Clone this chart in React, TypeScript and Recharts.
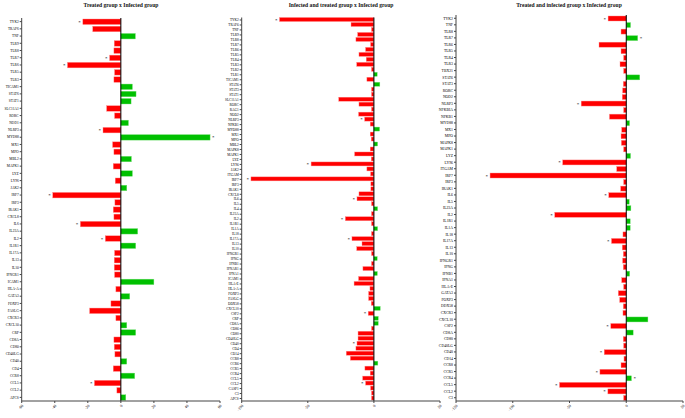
import { Bar, BarChart, ReferenceLine, XAxis, YAxis } from 'recharts';

// Treated group x Infected group
const p1Genes = [
  'TYK2', 'TRAF6', 'TNF', 'TLR9', 'TLR8', 'TLR7', 'TLR6', 'TLR5', 'TLR3', 'TICAM1',
  'STAT6', 'STAT1', 'SLC11A1', 'RORC', 'NOD1', 'NLRP3', 'MYD88', 'MX1', 'MPO', 'MBL2',
  'MAPK1', 'LYZ', 'LY96', 'JAK2', 'IRF7', 'IRF3', 'IRAK1', 'CXCL8', 'IL6', 'IL23A',
  'IL2', 'IL1R1', 'IL17A', 'IL13', 'IL10', 'IFNGR1', 'ICAM1', 'HLA-A', 'GATA3', 'FOXP3',
  'FASLG', 'CXCR3', 'CXCL10', 'CRP', 'CD8A', 'CD80', 'CD40LG', 'CD40', 'CD4', 'CCR8',
  'CCL5', 'CCL2', 'APCS',
];
const p1Values = [
  -23, -17, 8.8, -4, -4.2, -6.8, -32.3, -3.8, -4.2, 7,
  9.2, 6.2, -8.6, -3.8, 4.6, -10.8, 54, -5, -4.2, 6.4,
  -4.6, 7, -3.4, 3.6, -41.2, -3.6, -4.6, -4.2, -24.5, 10.2,
  -9.4, 9, -3.8, -4, -4, -3.8, 20, -3, 5.4, -6,
  -18.9, -3, 3.6, 9, -4.2, -4, -3.6, 3.6, -4.6, 8.4,
  -16, -2.4, 3,
];
const p1Stars = ['TYK2', 'TLR7', 'TLR6', 'NLRP3', 'MYD88', 'IRF7', 'IL6', 'IL2', 'CCL5'];
const p1Ticks = [-60, -40, -20, 0, 20, 40, 60];

// Infected and treated group x Infected group
const p2Genes = [
  'TYK2', 'TRAF6', 'TNF', 'TLR9', 'TLR8', 'TLR7', 'TLR6', 'TLR5', 'TLR4', 'TLR3',
  'TLR2', 'TLR1', 'TICAM1', 'STAT6', 'STAT3', 'STAT1', 'SLC11A1', 'RORC', 'RAG1', 'NOD2',
  'NLRP3', 'NFKB1', 'MYD88', 'MX1', 'MPO', 'MBL2', 'MAPK8', 'MAPK1', 'LYZ', 'LY96',
  'JAK2', 'ITGAM', 'IRF7', 'IRF3', 'IRAK1', 'CXCL8', 'IL6', 'IL5', 'IL4', 'IL23A',
  'IL2', 'IL1R1', 'IL1A', 'IL18', 'IL17A', 'IL13', 'IL10', 'IFNGR1', 'IFNG', 'IFNB1',
  'IFNAR1', 'IFNA1', 'ICAM1', 'HLA-E', 'HLA-A', 'FOXP3', 'FASLG', 'DDX58', 'CXCL10', 'CSF2',
  'CRP', 'CD8A', 'CD86', 'CD80', 'CD40LG', 'CD40', 'CD4', 'CD14', 'CCR8', 'CCR6',
  'CCR5', 'CCR4', 'CCL5', 'CCL2', 'CASP1', 'C3', 'APCS',
];
const p2Values = [
  -71.4, -17.3, -1.8, -12.3, -13.6, -2.5, -6.3, -11.3, -5.8, -13,
  -1.8, 2.5, -5.3, 4.5, -1.8, -1.8, -26.6, -11.3, -1.8, -11.6,
  -7, -2.8, 4.3, -2.8, -2, 2.8, -2.8, -14.6, -2, -47.5,
  -5.3, -2.5, -93, -2.3, -2.3, -11.3, -12.8, -1.8, 2.8, -1.8,
  -21.6, -1.8, 2.8, -1.8, -16.6, -9, -13, -1.8, 2.5, -1.8,
  -8.3, 2.6, -11.6, -15, -3, -4, -4, -2, 4.8, -4.3,
  3.3, 3.3, -1.8, -12, -12, -12.8, -13.6, -20.9, -17.8, 3,
  -6.8, -2.8, -8.5, -6.3, -2.5, -1.8, -1.8,
];
const p2Stars = ['TYK2', 'NLRP3', 'LY96', 'IRF7', 'IL6', 'IL2', 'IL17A', 'CSF2', 'CD40', 'CCL2'];
const p2Ticks = [-100, -50, 0, 50];

// Treated and infected group x Infected group
const p3Genes = [
  'TYK2', 'TNF', 'TLR8', 'TLR7', 'TLR6', 'TLR5', 'TLR4', 'TLR3', 'TBX21', 'STAT6',
  'STAT3', 'RORC', 'NOD2', 'NLRP3', 'NFKBIA', 'NFKB1', 'MYD88', 'MX1', 'MPO', 'MAPK8',
  'MAPK1', 'LYZ', 'LY96', 'ITGAM', 'IRF7', 'IRF3', 'IRAK1', 'IL6', 'IL5', 'IL23A',
  'IL2', 'IL1R1', 'IL1A', 'IL18', 'IL17A', 'IL13', 'IL10', 'IFNGR1', 'IFNG', 'IFNB1',
  'IFNA1', 'HLA-E', 'GATA3', 'FOXP3', 'DDX58', 'CXCR3', 'CXCL10', 'CSF2', 'CD8A', 'CD80',
  'CD40LG', 'CD40', 'CD14', 'CCR8', 'CCR5', 'CCR4', 'CCL5', 'CCL2', 'C3',
];
const p3Values = [
  -16, 3.8, -4.6, 10.1, -24, -4.6, -2.3, -5.5, -2.3, 11.9,
  -2.6, -3.2, -3.5, -39.7, -2.3, -14.8, 2.9, -4, -4.6, -4.3,
  -2.3, 3.8, -56, -8.4, -120, -2.3, -4.9, -15.4, 2.6, 4.1,
  -63, 3.5, 3.5, -2.9, -13, -3.5, -2.6, -3.2, -2.6, 3,
  -4, -2.3, -7, -5.8, -2.6, -2.9, 19.1, -13.6, 6.1, -2.6,
  -2.3, -19.4, -2, -4.6, -23.2, 4.6, -58.8, -16.2, -2.3,
];
const p3Stars = [
  'TYK2', 'TLR7', 'NLRP3', 'LY96', 'IRF7', 'IL6', 'IL2', 'IL17A', 'CSF2', 'CD40',
  'CCR5', 'CCR4', 'CCL5', 'CCL2',
];
const p3Ticks = [-150, -100, -50, 0, 50];

const FONT = '"Liberation Serif", "Times New Roman", serif';

function rows(genes: string[], values: number[], stars: string[]) {
  return genes.map((g, i) => ({ gene: g, val: values[i], star: stars.includes(g) }));
}

function BarShape(props: any) {
  const { x, y, width, height, payload } = props;
  const x0 = Math.min(x, x + width);
  const w = Math.abs(width);
  const neg = payload.val < 0;
  return (
    <g>
      <rect
        x={x0}
        y={y}
        width={w}
        height={height}
        fill={neg ? '#ff0000' : '#00c000'}
        stroke={neg ? '#ff8c8c' : '#7ee07e'}
        strokeWidth={0.4}
      />
      {payload.star && (
        <text
          x={neg ? x0 - 2 : x0 + w + 2}
          y={y + height / 2 + 2}
          fontSize={5}
          fontFamily={FONT}
          fill="#000"
          textAnchor={neg ? 'end' : 'start'}
        >
          *
        </text>
      )}
    </g>
  );
}

interface PanelProps {
  data: { gene: string; val: number; star: boolean }[];
  ticks: number[];
  width: number;
  top: number;
  right: number;
  axisWidth: number;
  barSize: number;
  labelSize: number;
}

function Panel({ data, ticks, width, top, right, axisWidth, barSize, labelSize }: PanelProps) {
  return (
    <BarChart
      width={width}
      height={418}
      data={data}
      layout="vertical"
      margin={{ top, right, bottom: 0, left: 0 }}
    >
      <XAxis
        type="number"
        domain={[ticks[0], ticks[ticks.length - 1]]}
        ticks={ticks}
        interval={0}
        height={17}
        angle={-45}
        textAnchor="end"
        tickSize={2}
        tickMargin={1}
        stroke="#444"
        tick={{ fontSize: 4, fontFamily: FONT, fill: '#000' }}
      />
      <YAxis
        type="category"
        dataKey="gene"
        width={axisWidth}
        interval={0}
        tickSize={2}
        tickMargin={1}
        stroke="#444"
        tick={{ fontSize: labelSize, fontFamily: FONT, fill: '#000' }}
      />
      <ReferenceLine x={0} stroke="#000" strokeWidth={1} />
      <Bar dataKey="val" barSize={barSize} isAnimationActive={false} shape={BarShape} />
    </BarChart>
  );
}

export default function App() {
  const titleStyle = { fontSize: 5.6, fontFamily: FONT, fontWeight: 'bold' as const, fill: '#111' };
  return (
    <div style={{ position: 'absolute', left: 0, top: 0, width: 685, height: 418, background: '#fff', overflow: 'hidden' }}>
      <div style={{ position: 'absolute', left: 0, top: 0 }}>
        <Panel data={rows(p1Genes, p1Values, p1Stars)} ticks={p1Ticks} width={225} top={18}
          right={5} axisWidth={21.7} barSize={5.5} labelSize={3.5} />
      </div>
      <div style={{ position: 'absolute', left: 222, top: 0 }}>
        <Panel data={rows(p2Genes, p2Values, p2Stars)} ticks={p2Ticks} width={230} top={17.5}
          right={12} axisWidth={19.7} barSize={4} labelSize={3.4} />
      </div>
      <div style={{ position: 'absolute', left: 435, top: 0 }}>
        <Panel data={rows(p3Genes, p3Values, p3Stars)} ticks={p3Ticks} width={250} top={15}
          right={2} axisWidth={21} barSize={5} labelSize={3.8} />
      </div>
      <svg width={685} height={418} style={{ position: 'absolute', left: 0, top: 0, pointerEvents: 'none' }}>
        <text x={121} y={7} textAnchor="middle" {...titleStyle}>Treated group x Infected group</text>
        <text x={341} y={7} textAnchor="middle" {...titleStyle}>Infected and treated group x Infected group</text>
        <text x={569} y={7} textAnchor="middle" {...titleStyle}>Treated and infected group x Infected group</text>
      </svg>
    </div>
  );
}
